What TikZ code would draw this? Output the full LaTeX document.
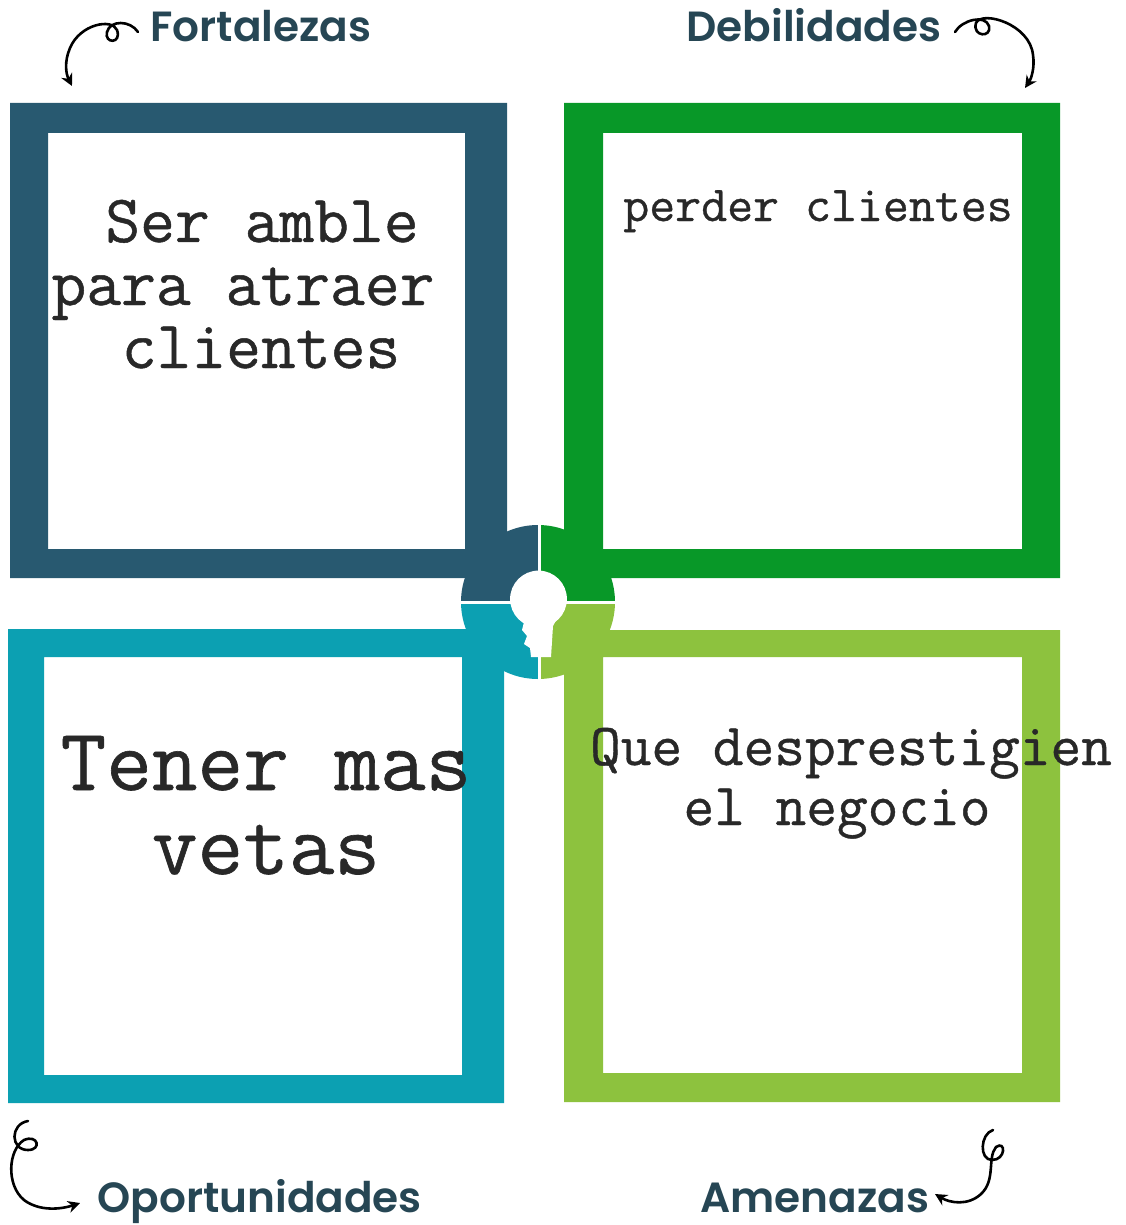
\documentclass[tikz,border=0pt]{standalone}
\usepackage{fontspec}
\usepackage{tikz}
\usetikzlibrary{arrows.meta}
\newfontfamily\headfont{Poppins SemiBold}
\newfontfamily\bodyfont{Latin Modern Mono}[FakeBold=0.7]
\definecolor{fortcol}{RGB}{40,89,112}
\definecolor{debcol}{RGB}{8,152,40}
\definecolor{opcol}{RGB}{12,160,178}
\definecolor{amecol}{RGB}{141,194,62}
\definecolor{headcol}{RGB}{38,70,84}
\definecolor{txtdark}{RGB}{40,40,40}
\tikzset{
	headtxt/.style={anchor=base west, inner sep=0pt, text=headcol, font=\headfont\fontsize{21.1}{25}\selectfont},
	bodytxt/.style={anchor=base, inner sep=0pt, text=txtdark},
	curl/.style={line width=1.3pt, line cap=round, -{Stealth[length=6pt,width=6pt]}},
	gapline/.style={line width=1.5pt, white}
}
% one line of box text
\def\swotline(#1)(#2)#3#4{%
	\node[bodytxt, font=\bodyfont\fontsize{#3}{#3}\selectfont] (#1) at (#2) {#4};}

\begin{document}
\begin{tikzpicture}[x=0.5pt, y=-0.5pt]
			%%%%% START %%%%%
			
			\useasboundingbox[fill=white] (0, 0) rectangle (1125, 1225);
			
			% centre disc
			\begin{scope}
				\clip (538, 602) circle (38.5pt);
				\fill[fortcol] (440, 500) rectangle (539, 602);
				\fill[debcol] (539, 500) rectangle (640, 602);
				\fill[opcol] (440, 602) rectangle (539, 700);
				\fill[amecol] (539, 602) rectangle (640, 700);
			\end{scope}
			\draw[gapline] (539, 520) -- (539, 685);
			\draw[gapline] (455, 602) -- (622, 602);
			
			% bulb
			\fill[white] (538.5, 599) circle (14.2pt);
			\fill[white] (513, 606) -- (564, 606) -- (553, 626) -- (551, 657) -- (531, 657) -- (530, 648) -- (524, 644) -- (527, 636) -- (522, 630) -- (524, 622) -- cycle;
			
			% frames
			\fill[fortcol, even odd rule] (10, 103) rectangle (507, 578) (48, 133) rectangle (465, 549);
			\fill[debcol, even odd rule] (564, 103) rectangle (1060, 578) (603, 133) rectangle (1022, 549);
			\fill[opcol, even odd rule] (8, 629) rectangle (504, 1103) (44, 657) rectangle (462, 1075);
			\fill[amecol, even odd rule] (564, 630) rectangle (1060, 1102) (603, 657) rectangle (1022, 1073);
			
			% titles
			\node[headtxt] (fort) at (150, 42) {Fortalezas};
			\node[headtxt] (deb) at (686, 42) {Debilidades};
			\node[headtxt] (opor) at (97, 1212) {Oportunidades};
			\node[headtxt] (amen) at (700, 1212) {Amenazas};
			
			% curly arrows
			\draw[curl] (138, 32) .. controls (130, 20) and (110, 20) .. (107, 32) .. controls (104, 44) and (122, 44) .. (117, 30) .. controls (112, 18) and (80, 24) .. (70, 48) .. controls (64, 62) and (66, 74) .. (72, 86);
			\draw[curl] (955, 32) .. controls (962, 20) and (985, 14) .. (989, 26) .. controls (992, 38) and (972, 37) .. (976, 23) .. controls (982, 10) and (1030, 24) .. (1033, 55) .. controls (1035, 68) and (1031, 79) .. (1025, 88);
			\draw[curl] (28, 1121) .. controls (10, 1124) and (10, 1150) .. (28, 1150) .. controls (42, 1150) and (38, 1134) .. (24, 1140) .. controls (8, 1150) and (6, 1185) .. (24, 1200) .. controls (40, 1212) and (62, 1209) .. (80, 1203);
			\draw[curl] (993, 1130) .. controls (980, 1134) and (979, 1160) .. (992, 1160) .. controls (1006, 1160) and (1006, 1140) .. (996, 1147) .. controls (987, 1158) and (996, 1180) .. (981, 1194) .. controls (968, 1206) and (950, 1203) .. (935, 1194);
			
			% box texts
			\swotline(f1)(262, 242){33.8}{Ser amble}
			\swotline(f2)(243, 305){33.8}{para atraer}
			\swotline(f3)(261, 368){33.8}{clientes}
			
			\swotline(d1)(818, 221){25.2}{perder clientes}
			
			\swotline(o1)(266, 790){44.3}{Tener mas}
			\swotline(o2)(266, 874){44.3}{vetas}
			
			\swotline(a1)(851, 765){29.8}{Que desprestigien}
			\swotline(a2)(837, 825){29.8}{el negocio}
			
			%%%%% END %%%%%
\end{tikzpicture}
\end{document}
